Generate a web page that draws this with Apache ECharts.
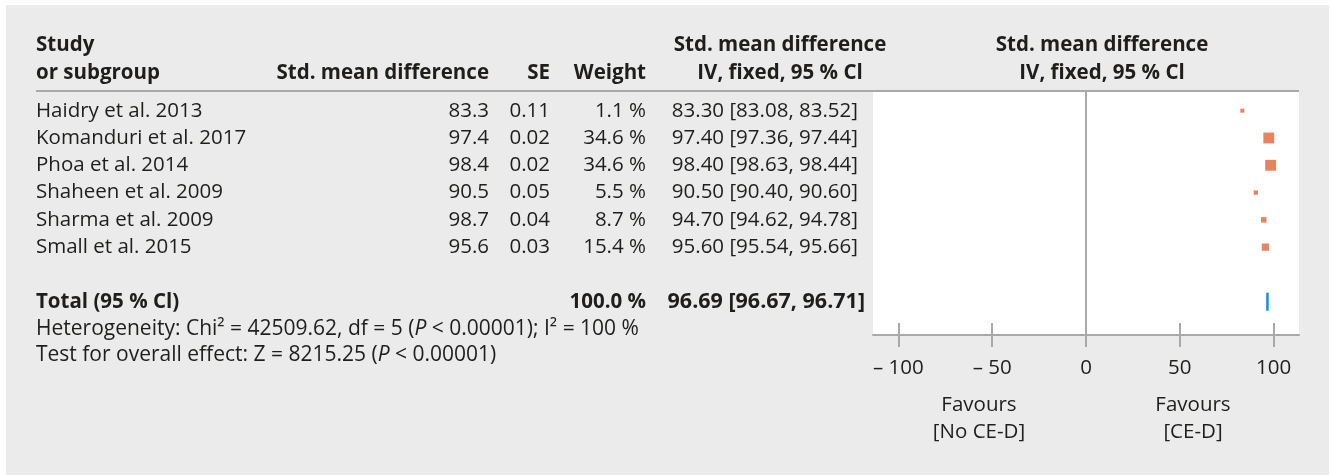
<!DOCTYPE html>
<html>
<head>
<meta charset="utf-8">
<script src="https://cdn.jsdelivr.net/npm/echarts@6/dist/echarts.min.js"></script>
<style>
  html, body { margin: 0; padding: 0; background: #ffffff; }
  #panel { position: absolute; left: 6px; top: 5px; width: 1323px; height: 470px; background: #eaebea; }
  #chart { position: absolute; left: 0; top: 0; width: 1332px; height: 475px; }
</style>
</head>
<body>
<div id="panel"></div>
<div id="chart"></div>
<script>
// Forest plot: fixed-effect meta-analysis of standardised mean differences
const studies = [
  'Haidry et al. 2013',
  'Komanduri et al. 2017',
  'Phoa et al. 2014',
  'Shaheen et al. 2009',
  'Sharma et al. 2009',
  'Small et al. 2015'
];
const smd = [83.3, 97.4, 98.4, 90.5, 98.7, 95.6];
const se = [0.11, 0.02, 0.02, 0.05, 0.04, 0.03];
const weights = [1.1, 34.6, 34.6, 5.5, 8.7, 15.4];
const ciMean = [83.30, 97.40, 98.40, 90.50, 94.70, 95.60];
const ciLow = [83.08, 97.36, 98.63, 90.40, 94.62, 95.54];
const ciHigh = [83.52, 97.44, 98.44, 90.60, 94.78, 95.66];
const totalWeight = 100.0;
const totalEstimate = [96.69, 96.67, 96.71]; // mean, lower, upper
const tickValues = [-100, -50, 0, 50, 100];
const tickLabels = ['– 100', '– 50', '0', '50', '100'];
const TOTAL_ROW = 7;

const FONT = 'Open Sans';
const INK = '#1f1e1d';
const RULE = '#a9a9ac';
const FS = 20.5;

const chart = echarts.init(document.getElementById('chart'), null, { renderer: 'canvas' });

function boxSide(w) { return Math.max(4, 1.85 * Math.sqrt(w)); }

const axisBase = {
  type: 'value',
  min: -113.5,
  max: 113.5,
  position: 'bottom',
  splitLine: { show: false }
};

chart.setOption({
  backgroundColor: 'transparent',
  animation: false,
  grid: {
    left: 873, right: 33, top: 92, bottom: 140,
    show: true, backgroundColor: '#ffffff', borderWidth: 0
  },
  xAxis: [
    Object.assign({}, axisBase, {
      axisLine: { show: true, onZero: false, lineStyle: { color: RULE, width: 2 } },
      axisTick: { show: true, customValues: tickValues, length: 12, inside: false,
                  lineStyle: { color: RULE, width: 2 } },
      axisLabel: {
        show: true, customValues: tickValues, margin: 23,
        fontFamily: FONT, fontSize: FS, color: INK,
        formatter: v => tickLabels[tickValues.indexOf(v)]
      }
    }),
    Object.assign({}, axisBase, {
      axisLine: { show: false, onZero: false },
      axisTick: { show: true, customValues: tickValues, length: 12, inside: true,
                  lineStyle: { color: RULE, width: 2 } },
      axisLabel: { show: false }
    })
  ],
  yAxis: { type: 'value', inverse: true, min: -0.685, max: 8.22, show: false },
  series: [
    {
      type: 'scatter',
      symbol: 'rect',
      data: studies.map((s, i) => [ciMean[i], i, weights[i]]),
      symbolSize: d => boxSide(d[2]),
      itemStyle: { color: '#e0653a' },
      markLine: {
        silent: true, symbol: 'none', label: { show: false },
        lineStyle: { color: RULE, width: 2, type: 'solid' },
        data: [{ xAxis: 0 }]
      },
      z: 3
    },
    {
      type: 'custom',
      data: [[totalEstimate[0], TOTAL_ROW, totalEstimate[1], totalEstimate[2]]],
      renderItem: (params, api) => {
        const c = api.coord([api.value(0), api.value(1)]);
        const lo = api.coord([api.value(2), api.value(1)]);
        const hi = api.coord([api.value(3), api.value(1)]);
        return {
          type: 'polygon',
          shape: { points: [[lo[0], c[1]], [c[0], c[1] - 9], [hi[0], c[1]], [c[0], c[1] + 9]] },
          style: { fill: '#1a8fd6', stroke: '#1a8fd6', lineWidth: 2.5 }
        };
      },
      z: 4
    }
  ]
});

// Table text laid out against the same row scale as the plot
const rowY = i => chart.convertToPixel({ yAxisIndex: 0 }, i);
const g = [];
function txt(text, x, y, align, opts) {
  opts = opts || {};
  g.push({
    type: 'text', x: x, y: y, silent: true,
    style: Object.assign({
      text: text, fill: INK,
      font: `${opts.weight || 'normal'} ${opts.size || FS}px "${FONT}"`,
      align: align, verticalAlign: 'middle'
    }, opts.style || {})
  });
}
const bold = { weight: 'bold' };

// Column headers
txt('Study', 36, 45, 'left', bold);
txt('or subgroup', 36, 73, 'left', bold);
txt('Std. mean difference', 489, 73, 'right', bold);
txt('SE', 550, 73, 'right', bold);
txt('Weight', 646, 73, 'right', bold);
txt('Std. mean difference', 780, 45, 'center', bold);
txt('IV, fixed, 95 % Cl', 780, 73, 'center', bold);
txt('Std. mean difference', 1102, 45, 'center', bold);
txt('IV, fixed, 95 % Cl', 1102, 73, 'center', bold);
g.push({ type: 'line', silent: true, shape: { x1: 36, y1: 91, x2: 1299, y2: 91 },
         style: { stroke: RULE, lineWidth: 2 } });

// Study rows
studies.forEach((s, i) => {
  const y = rowY(i);
  txt(s, 36, y, 'left');
  txt(smd[i].toFixed(1), 489, y, 'right');
  txt(se[i].toFixed(2), 550, y, 'right');
  txt(weights[i].toFixed(1) + ' %', 646, y, 'right');
  txt(`${ciMean[i].toFixed(2)} [${ciLow[i].toFixed(2)}, ${ciHigh[i].toFixed(2)}]`, 858, y, 'right');
});

// Pooled estimate
const ty = rowY(TOTAL_ROW);
txt('Total (95 % Cl)', 36, ty, 'left', bold);
txt(totalWeight.toFixed(1) + ' %', 646, ty, 'right', bold);
txt(`${totalEstimate[0].toFixed(2)} [${totalEstimate[1].toFixed(2)}, ${totalEstimate[2].toFixed(2)}]`, 865, ty, 'right',
    { weight: 'bold', size: 21.5 });

const SMALL = 21;
const italic = { i: { fontStyle: 'italic', fontFamily: FONT, fontSize: SMALL, fill: INK } };
txt('Heterogeneity: Chi² = 42509.62, df = 5 ({i|P} < 0.00001); I² = 100 %', 36, 329, 'left',
    { size: SMALL, style: { rich: italic } });
txt('Test for overall effect: Z = 8215.25 ({i|P} < 0.00001)', 36, 355, 'left',
    { size: SMALL, style: { rich: italic } });

// Direction labels under the axis
txt('Favours', 979, 405, 'center');
txt('[No CE-D]', 979, 432, 'center');
txt('Favours', 1193, 405, 'center');
txt('[CE-D]', 1193, 432, 'center');

chart.setOption({ graphic: g });
</script>
</body>
</html>
